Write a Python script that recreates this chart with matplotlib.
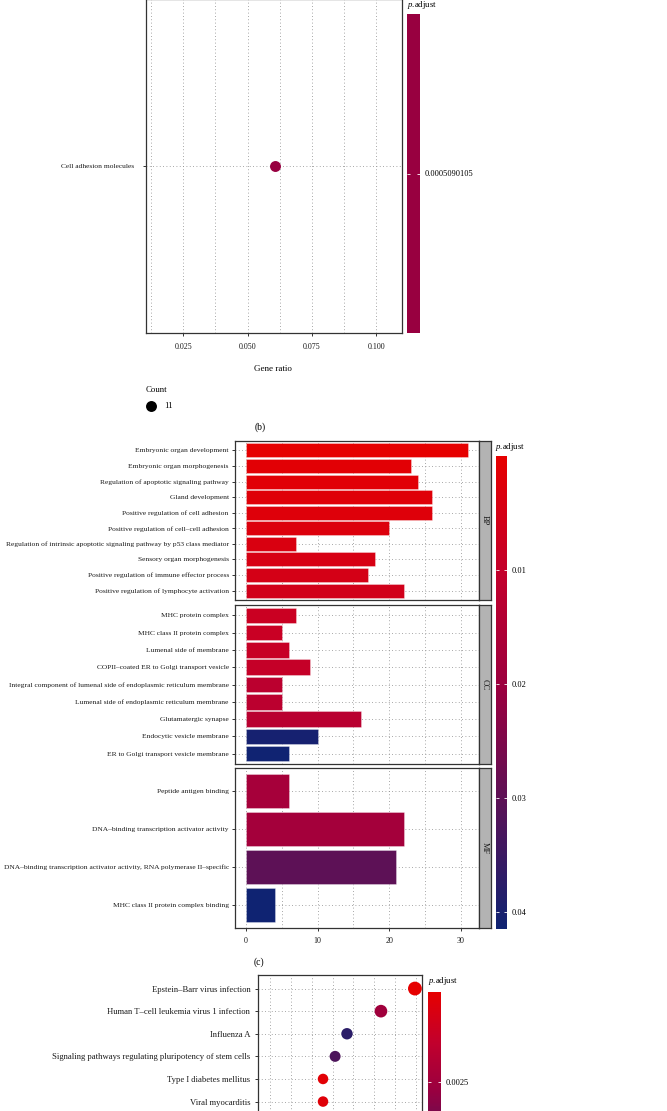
import numpy as np
import matplotlib
matplotlib.use('Agg')
import matplotlib.pyplot as plt
from matplotlib.colors import LinearSegmentedColormap, Normalize
from matplotlib.cm import ScalarMappable

plt.rcParams['font.family'] = ['Liberation Serif', 'DejaVu Serif']
plt.rcParams['mathtext.fontset'] = 'custom'
plt.rcParams['mathtext.rm'] = 'Liberation Serif'
plt.rcParams['mathtext.it'] = 'Liberation Serif:italic'

# ---- panel (b): KEGG dot plot, one term ----
b_terms = ['Cell adhesion molecules']
b_ratio = [0.0605]
b_count = [11]
b_padj = [0.0005090105]

# ---- panel (c): GO barplot, three ontologies ----
bp_terms = ['Embryonic organ development', 'Embryonic organ morphogenesis',
            'Regulation of apoptotic signaling pathway', 'Gland development',
            'Positive regulation of cell adhesion', 'Positive regulation of cell\u2013cell adhesion',
            'Regulation of intrinsic apoptotic signaling pathway by p53 class mediator',
            'Sensory organ morphogenesis', 'Positive regulation of immune effector process',
            'Positive regulation of lymphocyte activation']
bp_counts = [31, 23, 24, 26, 26, 20, 7, 18, 17, 22]
bp_padj = [0.00002, 0.0012, 0.0015, 0.0020, 0.0024, 0.0030, 0.0038, 0.0045, 0.0052, 0.0061]

cc_terms = ['MHC protein complex', 'MHC class II protein complex', 'Lumenal side of membrane',
            'COPII\u2013coated ER to Golgi transport vesicle',
            'Integral component of lumenal side of endoplasmic reticulum membrane',
            'Lumenal side of endoplasmic reticulum membrane', 'Glutamatergic synapse',
            'Endocytic vesicle membrane', 'ER to Golgi transport vesicle membrane']
cc_counts = [7, 5, 6, 9, 5, 5, 16, 10, 6]
cc_padj = [0.0080, 0.0085, 0.0090, 0.0095, 0.0120, 0.0120, 0.0125, 0.0405, 0.0412]

mf_terms = ['Peptide antigen binding', 'DNA\u2013binding transcription activator activity',
            'DNA\u2013binding transcription activator activity, RNA polymerase II\u2013specific',
            'MHC class II protein complex binding']
mf_counts = [6, 22, 21, 4]
mf_padj = [0.0175, 0.0180, 0.0300, 0.0415]

# ---- panel (d): KEGG dot plot (cut off at the bottom) ----
d_terms = ['Epstein\u2013Barr virus infection', 'Human T\u2013cell leukemia virus 1 infection',
           'Influenza A', 'Signaling pathways regulating pluripotency of stem cells',
           'Type I diabetes mellitus', 'Viral myocarditis']
d_ratio = [0.1095, 0.0932, 0.0769, 0.0712, 0.0654, 0.0654]
d_count = [19, 16, 13, 12, 11, 11]
d_padj = [0.00025, 0.0025, 0.0047, 0.0041, 0.0004, 0.0005]
d_padj_range = (0.00025, 0.0052)
d_rows = 10

cmap = LinearSegmentedColormap.from_list(
    'padj', ['#E60000', '#C2002C', '#990040', '#561358', '#0F2372'])

W, H = 667, 1111
fig = plt.figure(figsize=(W / 100, H / 100), dpi=100)


def px_axes(x0, y0, x1, y1):
    return fig.add_axes([x0 / W, 1 - y1 / H, (x1 - x0) / W, (y1 - y0) / H])


def px_text(x, y, s, **kw):
    fig.text(x / W, 1 - y / H, s, **kw)


def gg_style(ax, label_size=5.4):
    for sp in ax.spines.values():
        sp.set_color('#333333')
        sp.set_linewidth(0.9)
    ax.tick_params(which='major', length=2.5, width=0.7, color='#333333',
                   labelsize=label_size, pad=2, labelcolor='#1a1a1a')
    ax.tick_params(axis='x', labelsize=5.8)
    ax.tick_params(which='minor', length=0)
    ax.set_axisbelow(True)
    ax.grid(which='both', linestyle=(0, (1, 3)), color='#8a8a8a', linewidth=0.6)


def padj_label(x, y):
    px_text(x, y, r'$\mathit{p}$.adjust', fontsize=6.3, ha='left', va='center')


def colorbar(x0, y0, x1, y1, norm, ticks, labels):
    cax = px_axes(x0, y0, x1, y1)
    cb = fig.colorbar(ScalarMappable(norm=norm, cmap=cmap), cax=cax)
    cb.outline.set_visible(False)
    cax.invert_yaxis()
    cb.set_ticks(ticks)
    cb.set_ticklabels(labels)
    cax.tick_params(length=2.5, width=0.6, color='white', direction='in',
                    labelsize=6, pad=3, left=True)
    return cax


# ---------- panel (b) ----------
ax = px_axes(146, -1, 402, 333)
gg_style(ax)
ax.scatter(b_ratio, range(len(b_terms)), s=62, color=cmap(0.5), zorder=3, linewidths=0)
ax.set_xlim(0.0105, 0.110)
ax.set_ylim(0.6, -0.6)
ax.set_xticks([0.025, 0.050, 0.075, 0.100])
ax.set_xticklabels(['0.025', '0.050', '0.075', '0.100'])
ax.set_xticks([0.0125, 0.0375, 0.0625, 0.0875], minor=True)
ax.set_yticks(range(len(b_terms)))
ax.set_yticklabels(b_terms)
ax.tick_params(axis='y', pad=6)
ax.tick_params(axis='x', pad=5)
px_text(273, 369, 'Gene ratio', fontsize=6.5, ha='center', va='center')

cax = px_axes(407, 14, 420, 333)
cax.set_facecolor(cmap(0.5))
for sp in cax.spines.values():
    sp.set_visible(False)
cax.set_xticks([])
cax.set_ylim(0, 1)
cax.yaxis.tick_right()
cax.set_yticks([0.5])
cax.set_yticklabels(['%.10f' % b_padj[0]])
cax.tick_params(length=2.5, width=0.6, color='white', direction='in',
                labelsize=6, pad=3, left=True)
padj_label(407, 5)

px_text(146, 390, 'Count', fontsize=6.3, ha='left', va='center')
lax = px_axes(140, 396, 180, 416)
lax.set_xlim(0, 40)
lax.set_ylim(-10, 10)
lax.axis('off')
lax.scatter([11], [0], s=62, color='black', linewidths=0)
px_text(164, 406, str(b_count[0]), fontsize=6.3, ha='left', va='center')
px_text(260, 427, '(b)', fontsize=7, ha='center', va='center')

# ---------- panel (c) ----------
norm_c = Normalize(0.0, 0.0415)
facets = [('BP', bp_terms, bp_counts, bp_padj, 441, 600),
          ('CC', cc_terms, cc_counts, cc_padj, 605, 764),
          ('MF', mf_terms, mf_counts, mf_padj, 768, 928)]
for k, (name, terms, counts, padj, y0, y1) in enumerate(facets):
    ax = px_axes(235, y0, 479, y1)
    gg_style(ax)
    n = len(terms)
    ax.barh(np.arange(n), counts, height=0.9, color=cmap(norm_c(np.array(padj))),
            edgecolor=(1, 1, 1, 0.45), linewidth=0.5, zorder=3)
    ax.set_xlim(-1.55, 32.55)
    ax.set_ylim(n - 0.4, -0.6)
    ax.set_yticks(np.arange(n))
    ax.set_yticklabels(terms)
    ax.set_xticks([0, 10, 20, 30])
    ax.set_xticks([5, 15, 25], minor=True)
    if k < 2:
        ax.tick_params(axis='x', which='major', bottom=False, labelbottom=False)
    else:
        ax.tick_params(axis='x', pad=4)
    sax = px_axes(479, y0, 491, y1)
    sax.set_facecolor('#b3b3b3')
    for sp in sax.spines.values():
        sp.set_color('#333333')
        sp.set_linewidth(0.9)
    sax.set_xticks([])
    sax.set_yticks([])
    sax.text(0.5, 0.5, name, rotation=270, ha='center', va='center', fontsize=6,
             transform=sax.transAxes, color='#1a1a1a')

colorbar(496, 456, 507, 929, norm_c, [0.01, 0.02, 0.03, 0.04],
         ['0.01', '0.02', '0.03', '0.04'])
padj_label(495, 447)
px_text(259, 962, '(c)', fontsize=7, ha='center', va='center')

# ---------- panel (d) ----------
row_px = 22.6
ax = px_axes(258, 975, 422, 975 + (d_rows + 0.2) * row_px)
gg_style(ax, label_size=6.2)
norm_d = Normalize(*d_padj_range)
ax.scatter(d_ratio, np.arange(len(d_terms)), s=5.2 * np.array(d_count),
           color=cmap(norm_d(np.array(d_padj))), zorder=3, linewidths=0)
ax.set_xlim(0.0342, 0.1129)
ax.set_ylim(d_rows - 0.4, -0.6)
ax.set_xticks(np.arange(0.04, 0.111, 0.01))
ax.tick_params(axis='x', bottom=False, labelbottom=False)
ax.set_yticks(np.arange(len(d_terms)))
ax.set_yticklabels(d_terms)
ax.tick_params(axis='y', pad=3)

colorbar(428, 992, 441, 1190, norm_d, [0.0025], ['0.0025'])
padj_label(428, 981)

fig.savefig('out.png', dpi=100)
